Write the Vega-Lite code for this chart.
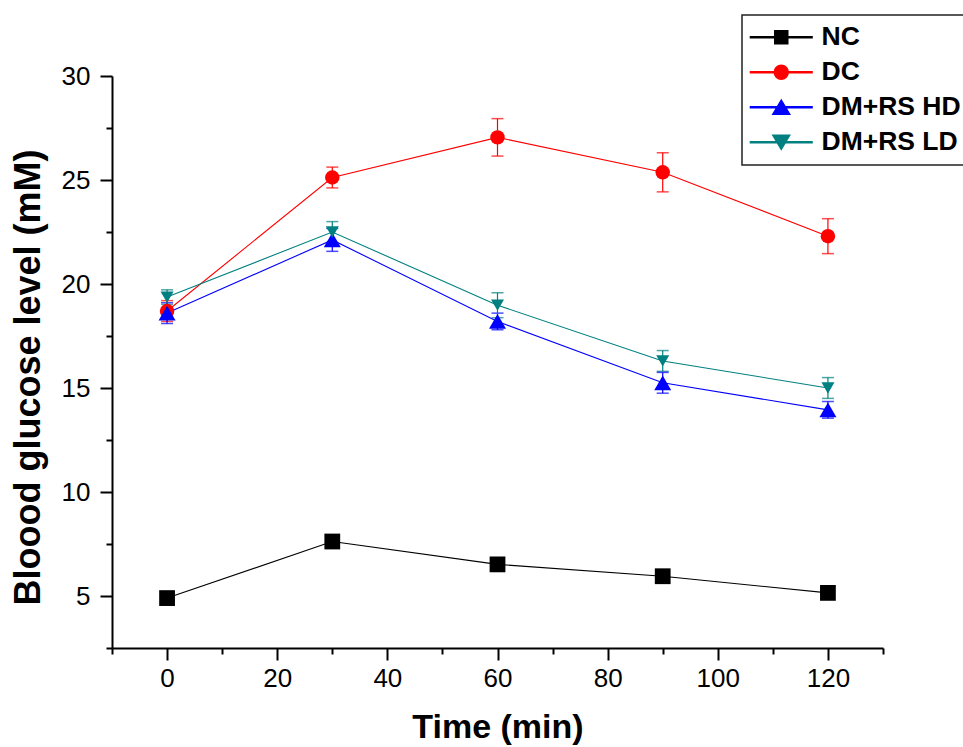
{
  "$schema": "https://vega.github.io/schema/vega-lite/v6.json",
  "width": 771,
  "height": 572,
  "autosize": {"type": "none"},
  "padding": {"left": 112, "top": 76, "right": 80, "bottom": 99},
  "background": "white",
  "data": {
    "values": [
      {"group": "NC", "time": 0, "glucose": 4.9, "sd": 0.15},
      {"group": "NC", "time": 30, "glucose": 7.62, "sd": 0.15},
      {"group": "NC", "time": 60, "glucose": 6.52, "sd": 0.15},
      {"group": "NC", "time": 90, "glucose": 5.95, "sd": 0.15},
      {"group": "NC", "time": 120, "glucose": 5.15, "sd": 0.15},
      {"group": "DC", "time": 0, "glucose": 18.7, "sd": 0.5},
      {"group": "DC", "time": 30, "glucose": 25.12, "sd": 0.5},
      {"group": "DC", "time": 60, "glucose": 27.05, "sd": 0.9},
      {"group": "DC", "time": 90, "glucose": 25.37, "sd": 0.94},
      {"group": "DC", "time": 120, "glucose": 22.3, "sd": 0.84},
      {"group": "DM+RS HD", "time": 0, "glucose": 18.6, "sd": 0.5},
      {"group": "DM+RS HD", "time": 30, "glucose": 22.12, "sd": 0.55},
      {"group": "DM+RS HD", "time": 60, "glucose": 18.2, "sd": 0.4},
      {"group": "DM+RS HD", "time": 90, "glucose": 15.25, "sd": 0.5},
      {"group": "DM+RS HD", "time": 120, "glucose": 13.95, "sd": 0.4},
      {"group": "DM+RS LD", "time": 0, "glucose": 19.37, "sd": 0.35},
      {"group": "DM+RS LD", "time": 30, "glucose": 22.5, "sd": 0.5},
      {"group": "DM+RS LD", "time": 60, "glucose": 18.98, "sd": 0.6},
      {"group": "DM+RS LD", "time": 90, "glucose": 16.3, "sd": 0.5},
      {"group": "DM+RS LD", "time": 120, "glucose": 15.0, "sd": 0.5}
    ]
  },
  "encoding": {
    "x": {
      "field": "time",
      "type": "quantitative",
      "scale": {"domain": [-10, 130], "nice": false, "zero": false},
      "axis": {
        "title": "Time (min)",
        "values": [-10, 0, 10, 20, 30, 40, 50, 60, 70, 80, 90, 100, 110, 120, 130],
        "labelExpr": "datum.value % 20 === 0 ? datum.label : ''",
        "tickSize": {"condition": {"test": "datum.value % 20 === 0", "value": 12}, "value": 6},
        "labelPadding": 5,
        "titlePadding": 19,
        "titleFontSize": 34
      }
    },
    "y": {
      "field": "glucose",
      "type": "quantitative",
      "scale": {"domain": [2.5, 30], "nice": false, "zero": false},
      "axis": {
        "title": "Bloood glucose level (mM)",
        "values": [2.5, 5, 7.5, 10, 12.5, 15, 17.5, 20, 22.5, 25, 27.5, 30],
        "labelExpr": "datum.value % 5 === 0 ? datum.label : ''",
        "tickSize": {"condition": {"test": "datum.value % 5 === 0", "value": 12}, "value": 6},
        "labelPadding": 10,
        "titlePadding": 14,
        "titleFontSize": 36,
        "titleY": 301
      }
    },
    "color": {
      "field": "group",
      "type": "nominal",
      "scale": {
        "domain": ["NC", "DC", "DM+RS HD", "DM+RS LD"],
        "range": ["#000000", "#ff0000", "#0000ff", "#008080"]
      },
      "legend": {
        "orient": "none",
        "legendX": 630,
        "legendY": -61,
        "title": null,
        "padding": 9,
        "rowPadding": 8,
        "symbolOffset": 17,
        "labelOffset": 27,
        "symbolSize": 196,
        "strokeColor": "#222222",
        "labelFontSize": 26.5,
        "labelFontWeight": "bold",
        "labelColor": "black",
        "labelFont": "Liberation Sans",
        "encoding": {
          "symbols": {
            "shape": {"value": {"expr": "datum.value === 'NC' ? 'M-4.4,-0.08H4.4V0.08H-4.4ZM-0.93,-0.93H0.93V0.93H-0.93Z' : datum.value === 'DC' ? 'M-4.4,-0.08H4.4V0.08H-4.4ZM1,0A1,1,0,1,1,-1,0A1,1,0,1,1,1,0Z' : datum.value === 'DM+RS HD' ? 'M-4.4,-0.08H4.4V0.08H-4.4ZM0,-1L1.2,1H-1.2Z' : 'M-4.4,-0.08H4.4V0.08H-4.4ZM0,1L1.2,-1H-1.2Z'"}},
            "opacity": {"value": 1}
          }
        }
      }
    }
  },
  "layer": [
    {
      "mark": {"type": "errorbar", "ticks": {"size": 12, "thickness": 1.5}, "thickness": 1.2},
      "encoding": {
        "y": {"field": "glucose", "type": "quantitative"},
        "yError": {"field": "sd"}
      }
    },
    {
      "mark": {"type": "line", "strokeWidth": 1.1}
    },
    {
      "mark": {"type": "point", "filled": true, "opacity": 1},
      "encoding": {
        "shape": {
          "field": "group",
          "type": "nominal",
          "scale": {
            "domain": ["DC", "NC", "DM+RS HD", "DM+RS LD"],
            "range": ["circle", "square", "triangle-up", "triangle-down"]
          },
          "legend": null
        },
        "size": {
          "field": "group",
          "type": "nominal",
          "scale": {
            "domain": ["DM+RS HD", "NC", "DC", "DM+RS LD"],
            "range": [289, 169, 196, 289]
          },
          "legend": null
        }
      }
    }
  ],
  "config": {
    "view": {"stroke": null},
    "font": "Liberation Sans",
    "axis": {
      "grid": false,
      "domainColor": "black",
      "domainWidth": 2,
      "tickColor": "black",
      "tickWidth": 2,
      "labelFont": "Liberation Sans",
      "labelFontSize": 26,
      "labelColor": "black",
      "titleFont": "Liberation Sans",
      "titleFontWeight": "bold",
      "titleColor": "black"
    },
    "legend": {"strokeWidth": 1.5}
  }
}
